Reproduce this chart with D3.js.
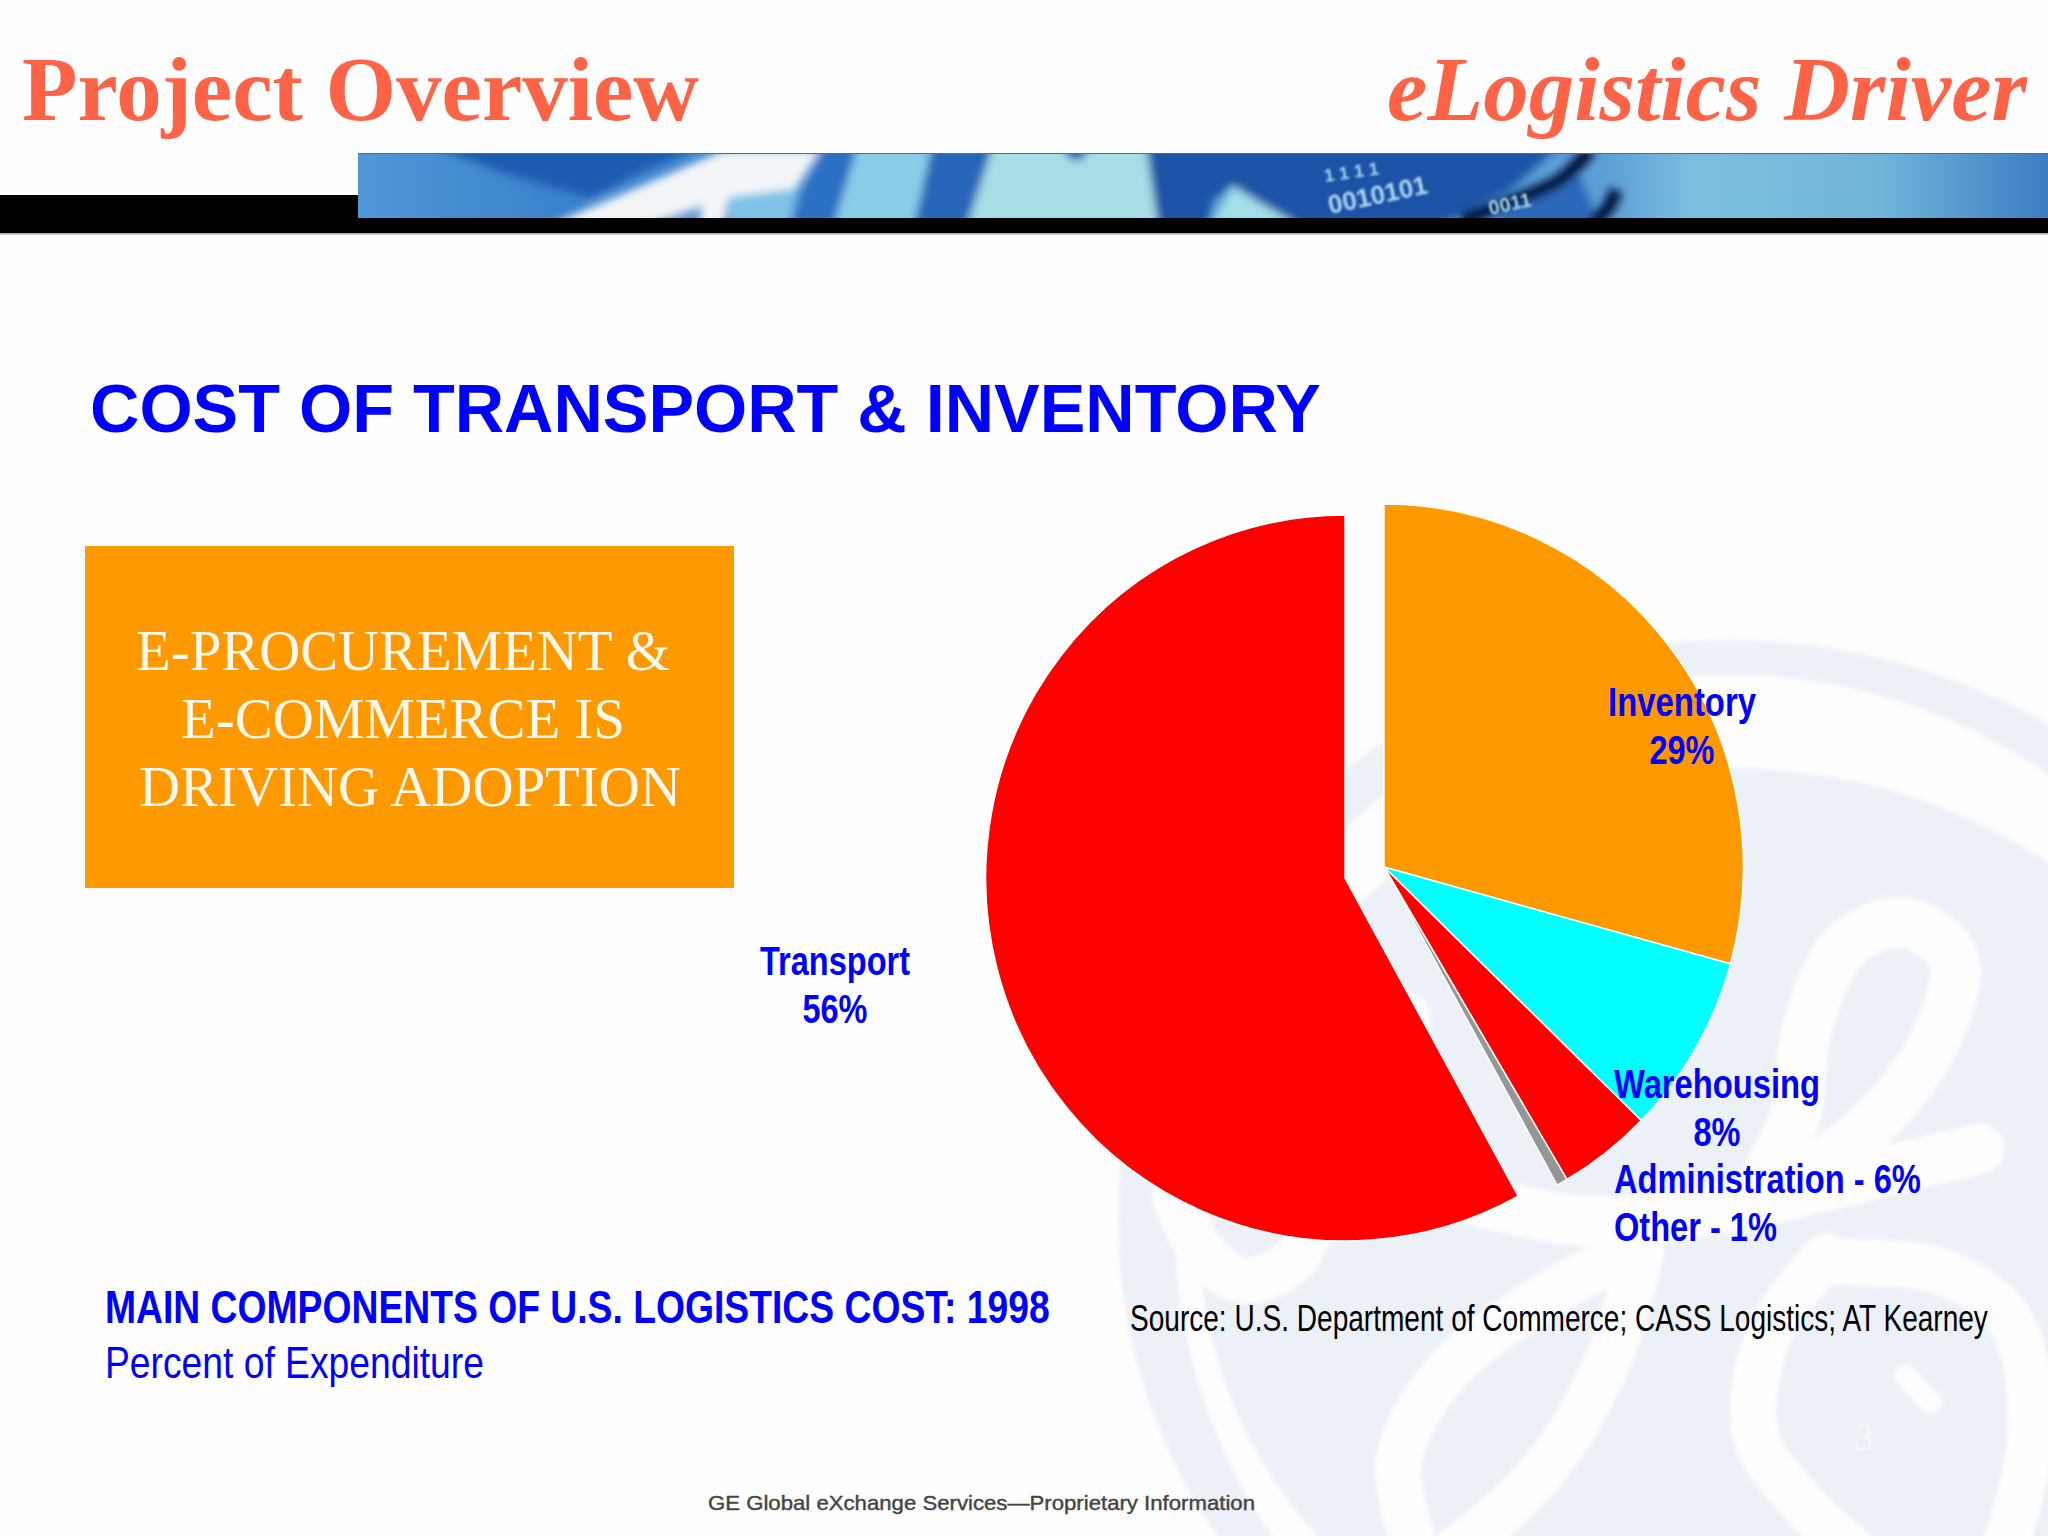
<!DOCTYPE html>
<html>
<head>
<meta charset="utf-8">
<title>Cost of Transport &amp; Inventory</title>
<script src="https://cdn.jsdelivr.net/npm/d3@7"></script>
<style>
  html, body { margin: 0; padding: 0; background: #fff; }
  svg { display: block; }
  text { font-family: "Liberation Sans", Arial, sans-serif; }
  .serif { font-family: "Liberation Serif", "Times New Roman", serif; }
  .narrow { font-family: "Liberation Sans Narrow", "Arial Narrow", "Liberation Sans", sans-serif; }
</style>
</head>
<body>
<svg id="slide" width="2048" height="1536"></svg>
<script>
// slice labels, as printed on the slide
const categories = ["Inventory", "Warehousing", "Administration", "Other", "Transport"];
const labelPercents = [29, 8, 6, 1, 56];
// slice sizes read from the drawn angles (the slide's pie doesn't quite follow its own labels)
const sliceShares = [29.3, 8, 4.2, 0.5, 58];
const sliceColors = ["#FF9900", "#00FFFF", "#FF0000", "#969696", "#FF0000"];

const svg = d3.select("#slide");
const defs = svg.append("defs");

function blur(id, dev) {
  defs.append("filter").attr("id", id)
    .attr("filterUnits", "userSpaceOnUse")
    .attr("x", 0).attr("y", 0).attr("width", 2048).attr("height", 1536)
    .append("feGaussianBlur").attr("stdDeviation", dev);
}
blur("soft", 4);
blur("softer", 1);
blur("wmBlur", 2);

defs.append("clipPath").attr("id", "stripClip")
  .append("rect").attr("x", 358).attr("y", 154).attr("width", 1690).attr("height", 64);

const stripGrad = defs.append("linearGradient").attr("id", "stripGrad");
[[0, "#4f97d6"], [0.12, "#3a82cc"], [0.2, "#3a86cc"], [0.74, "#5ba0d6"], [0.79, "#7cbfe0"],
 [0.9, "#70b6da"], [1, "#3c7cc2"]].forEach(s => {
  stripGrad.append("stop").attr("offset", s[0]).attr("stop-color", s[1]);
});

svg.append("rect").attr("width", 2048).attr("height", 1536).attr("fill", "#fefefe");

// ---- GE watermark behind the chart ----
const wm = svg.append("g").attr("filter", "url(#wmBlur)");
const wmBlue = "#ecf1f8";
wm.append("ellipse").attr("cx", 1730).attr("cy", 1220).attr("rx", 612).attr("ry", 580).attr("fill", wmBlue);
wm.append("ellipse").attr("cx", 1730).attr("cy", 1225).attr("rx", 555).attr("ry", 550).attr("fill", "#fefefe");
wm.append("ellipse").attr("cx", 1730).attr("cy", 1240).attr("rx", 530).attr("ry", 472).attr("fill", wmBlue);

const wmX = d3.scaleLinear().domain([0, 1568]).range([1048, 2048]);
const wmY = d3.scaleLinear().domain([0, 1568]).range([600, 1536]);
const wmLine = d3.line().x(d => wmX(d[0])).y(d => wmY(d[1])).curve(d3.curveCatmullRom);

const swirls = [
  { w: 50, pts: [[1100, 1010], [1170, 870], [1190, 720], [1250, 580], [1340, 540], [1420, 600], [1390, 740], [1290, 880], [1150, 990]] },
  { w: 50, pts: [[1460, 920], [1300, 960], [1100, 1010], [900, 1040], [770, 1030], [600, 960], [560, 700]] },
  { w: 46, pts: [[930, 1080], [760, 1180], [620, 1300], [550, 1440], [570, 1568]] },
  { w: 46, pts: [[930, 1090], [880, 1270], [790, 1440], [700, 1540], [640, 1590]] },
  { w: 46, pts: [[1220, 1100], [1130, 1230], [1110, 1400], [1180, 1510], [1260, 1590]] },
  { w: 46, pts: [[1220, 1110], [1400, 1125], [1510, 1210], [1540, 1400], [1500, 1590]] },
  { w: 46, pts: [[200, 1000], [240, 1090], [310, 1140], [390, 1100], [420, 1000]] },
  { w: 22, pts: [[1345, 1300], [1385, 1345]] }
];
wm.selectAll("path.swirl").data(swirls).join("path")
  .attr("class", "swirl")
  .attr("d", d => wmLine(d.pts))
  .attr("fill", "none")
  .attr("stroke", "#fefefe")
  .attr("stroke-width", d => d.w)
  .attr("stroke-linecap", "round");

// ---- header band ----
svg.append("rect").attr("x", 0).attr("y", 195).attr("width", 358).attr("height", 38).attr("fill", "#000");
svg.append("rect").attr("x", 358).attr("y", 216).attr("width", 1690).attr("height", 17).attr("fill", "#000");
svg.append("rect").attr("x", 0).attr("y", 233).attr("width", 2048).attr("height", 1.5).attr("fill", "#aaa");
svg.append("rect").attr("x", 358).attr("y", 153).attr("width", 1690).attr("height", 1.5).attr("fill", "#667");

const strip = svg.append("g").attr("clip-path", "url(#stripClip)");
strip.append("rect").attr("x", 358).attr("y", 154).attr("width", 1690).attr("height", 64).attr("fill", "url(#stripGrad)");
const stripArt = strip.append("g").attr("filter", "url(#soft)");

const stripShapes = [
  { fill: "#1f5cb0", pts: [[430, 145], [705, 145], [640, 172], [590, 198], [500, 172]] },
  { fill: "#f3f6f8", pts: [[550, 225], [724, 150], [820, 150], [795, 190], [729, 197], [724, 225]] },
  { fill: "#5b9fd8", pts: [[645, 225], [702, 205], [702, 225]] },
  { fill: "#7fc3e8", pts: [[729, 197], [798, 188], [790, 225], [729, 225]] },
  { fill: "#89cde8", pts: [[850, 145], [940, 145], [916, 225], [830, 225]] },
  { fill: "#2a70c4", pts: [[823, 145], [858, 145], [834, 225], [790, 225]] },
  { fill: "#2566b8", pts: [[932, 145], [995, 145], [965, 225], [914, 225]] },
  { fill: "#a8dee6", pts: [[993, 145], [1148, 145], [1158, 225], [968, 225]] },
  { fill: "#2060b4", pts: [[1062, 145], [1092, 145], [1082, 160], [1070, 160]] },
  { fill: "#1d52a6", pts: [[1146, 145], [1560, 145], [1510, 190], [1440, 225], [1295, 225], [1234, 186], [1212, 200], [1208, 225], [1158, 225]] },
  { fill: "#a2dfe8", pts: [[1210, 225], [1232, 186], [1298, 225]] },
  { fill: "#2a68ba", pts: [[1490, 225], [1575, 165], [1600, 225]] }
];
stripArt.selectAll("polygon").data(stripShapes).join("polygon")
  .attr("fill", d => d.fill)
  .attr("points", d => d.pts.join(" "));

const swooshLine = d3.line().curve(d3.curveCatmullRom);
[[[1590, 150], [1560, 180], [1510, 202], [1462, 220]],
 [[1616, 190], [1608, 208], [1592, 222]]].forEach(p => {
  stripArt.append("path").attr("d", swooshLine(p)).attr("fill", "none")
    .attr("stroke", "#040e38").attr("stroke-width", 13);
});

// filter goes on a wrapper: on the rotated text itself its region would clip the glyphs
const binaryRuns = [
  { t: "1 1 1 1", x: 1325, y: 182, r: -8, s: 18 },
  { t: "0010101", x: 1330, y: 214, r: -12, s: 26 },
  { t: "0011", x: 1490, y: 215, r: -12, s: 20 }
];
strip.append("g").attr("filter", "url(#softer)")
  .selectAll("text.binary").data(binaryRuns).join("text")
  .attr("class", "binary")
  .attr("transform", d => `translate(${d.x},${d.y}) rotate(${d.r})`)
  .attr("fill", "#a9d6ee")
  .attr("font-size", d => d.s)
  .attr("font-weight", "bold")
  .text(d => d.t);

// text helper. Lines are squeezed sideways with a transform so each one ends
// where it does on the slide (the slide's type is a condensed Arial)
function put(str, x, y, o) {
  const t = svg.append("text")
    .attr("class", o.cls || null)
    .attr("text-anchor", o.anchor || "start")
    .attr("font-size", o.size)
    .attr("font-weight", o.weight || "normal")
    .attr("font-style", o.style || "normal")
    .attr("fill", o.fill)
    .text(str);
  const k = o.width ? o.width / t.node().getComputedTextLength() : 1;
  t.attr("transform", `translate(${x},${y}) scale(${k},1)`);
  return t;
}

const headColor = "#FF6347";
put("Project Overview", 22, 120, { cls: "serif", size: 90, weight: "bold", fill: headColor, width: 677 });
put("eLogistics Driver", 2027, 120, { cls: "serif", size: 90, weight: "bold", style: "italic", fill: headColor, anchor: "end", width: 640 });
put("COST OF TRANSPORT & INVENTORY", 90, 432, { size: 68, weight: "bold", fill: "#0000FF", width: 1231 });

// ---- orange call-out ----
svg.append("rect").attr("x", 85).attr("y", 546).attr("width", 649).attr("height", 342).attr("fill", "#FF9900");
const boxText = { cls: "serif", size: 57, fill: "#FFF8EE", anchor: "middle" };
put("E-PROCUREMENT &", 403, 670, { ...boxText, width: 534 });
put("E-COMMERCE IS", 403, 738, { ...boxText, width: 444 });
put("DRIVING ADOPTION", 410, 806, { ...boxText, width: 542 });

// ---- pie ----
const pieCenter = [1384, 867];
const transportCenter = [1345, 878];
const outerR = 363;
const pie = d3.pie().sort(null).value(d => d);
const arc = d3.arc().innerRadius(0).outerRadius(outerR);

svg.append("g").attr("class", "pie")
  .selectAll("path").data(pie(sliceShares)).join("path")
  .attr("transform", (d, i) => {
    const c = categories[i] === "Transport" ? transportCenter : pieCenter;
    return `translate(${c[0]},${c[1]}) scale(0.99,1)`;
  })
  .attr("d", arc)
  .attr("fill", (d, i) => sliceColors[i])
  .attr("stroke", "#fff")
  .attr("stroke-width", 1.5);

// ---- slice labels ----
const lab = { cls: "narrow", size: 40, weight: "bold", fill: "#0000FF" };
const pct = i => labelPercents[i] + "%";
put(categories[0], 1682, 716, { ...lab, anchor: "middle", width: 148 });
put(pct(0), 1682, 764, { ...lab, anchor: "middle", width: 65 });
put(categories[4], 835, 975, { ...lab, anchor: "middle", width: 150 });
put(pct(4), 835, 1023, { ...lab, anchor: "middle", width: 65 });
put(categories[1], 1614, 1098, { ...lab, width: 206 });
put(pct(1), 1717, 1146, { ...lab, anchor: "middle", width: 47 });
put(categories[2] + " - " + pct(2), 1614, 1193, { ...lab, width: 307 });
put(categories[3] + " - " + pct(3), 1614, 1241, { ...lab, width: 163 });

// ---- notes ----
put("MAIN COMPONENTS OF U.S. LOGISTICS COST: 1998", 105, 1323, { cls: "narrow", size: 46, weight: "bold", fill: "#0000FF", width: 945 });
put("Percent of Expenditure", 105, 1378, { cls: "narrow", size: 45, fill: "#0000FF", width: 379 });
put("Source: U.S. Department of Commerce; CASS Logistics; AT Kearney", 1130, 1331, { cls: "narrow", size: 37, fill: "#000", width: 858 });
put("GE Global eXchange Services\u2014Proprietary Information", 708, 1510, { size: 20, fill: "#444", width: 547 })
  .attr("stroke", "#444").attr("stroke-width", 0.4);
put("3", 1864, 1450, { cls: "serif", size: 38, fill: "#f7f9fc", anchor: "middle" });
</script>
</body>
</html>
